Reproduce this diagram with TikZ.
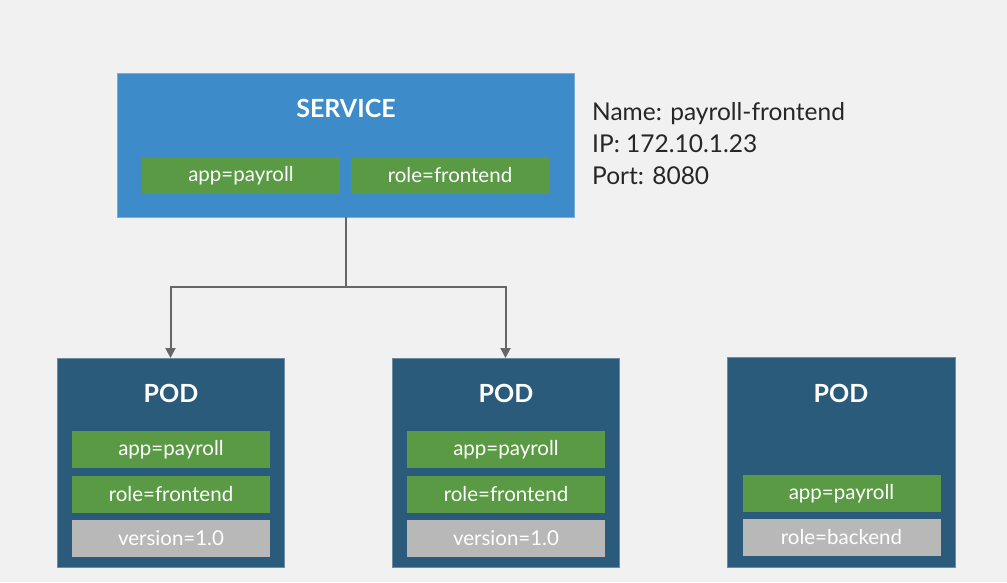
\documentclass[tikz,border=0pt]{standalone}
\usepackage{fontspec}
\setmainfont{Lato}
\usetikzlibrary{arrows.meta}
\definecolor{bg}{HTML}{F1F1F1}
\definecolor{svcblue}{HTML}{3D8BC9}
\definecolor{poddark}{HTML}{2B5B7B}
\definecolor{lblgreen}{HTML}{5A9A45}
\definecolor{lblgrey}{HTML}{B8B8B8}
\definecolor{linegrey}{HTML}{666666}
\begin{document}
\begin{tikzpicture}[x=1pt,y=-1pt,
  box/.style={draw=none,inner sep=0pt,outer sep=0pt},
  svcbox/.style={box,fill=svcblue,draw=svcblue!70!white,line width=0.8pt},
  podbox/.style={box,fill=poddark,draw=poddark!70!white,line width=0.8pt},
  lbl/.style={box,text=white,font=\fontsize{20.5}{22}\selectfont,minimum width=198pt,minimum height=37pt},
  glbl/.style={lbl,fill=lblgreen},
  ylbl/.style={lbl,fill=lblgrey},
  title/.style={text=white,font=\fontsize{25}{27}\selectfont\bfseries,inner sep=0pt},
  info/.style={font=\fontsize{24.5}{28}\selectfont,text=black!85,inner sep=0pt,anchor=base west},
  conn/.style={draw=linegrey,line width=2pt},
  arr/.style={conn,-{Triangle[length=10pt,width=10pt]}}
]
\fill[bg] (0,0) rectangle (1007,582);
\useasboundingbox (0,0) rectangle (1007,582);

% service
\node[svcbox,minimum width=457pt,minimum height=144pt] (svc) at (345.5,145) {};
\node[title] (svct) at (346,108) {SERVICE};
\node[glbl] (s1) at (241,175.5) {app=payroll};
\node[glbl] (s2) at (450,175.5) {role=frontend};

\node[info] (n1) at (592,120) {Name: payroll-frontend};
\node[info] (n2) at (592,152) {IP: 172.10.1.23};
\node[info] (n3) at (592,184) {Port: 8080};

% pods
\node[podbox,minimum width=227pt,minimum height=209pt] (p1) at (170.5,462.5) {};
\node[title] (p1t) at (171,393) {POD};
\node[glbl] (p1a) at (171,449.5) {app=payroll};
\node[glbl] (p1b) at (171,494.5) {role=frontend};
\node[ylbl] (p1c) at (171,538) {version=1.0};

\node[podbox,minimum width=227pt,minimum height=209pt] (p2) at (505.5,462.5) {};
\node[title] (p2t) at (506,393) {POD};
\node[glbl] (p2a) at (506,449.5) {app=payroll};
\node[glbl] (p2b) at (506,494.5) {role=frontend};
\node[ylbl] (p2c) at (506,538) {version=1.0};

\node[podbox,minimum width=228pt,minimum height=210pt] (p3) at (841,462) {};
\node[title] (p3t) at (841,393) {POD};
\node[glbl] (p3a) at (841.5,493.5) {app=payroll};
\node[ylbl] (p3b) at (841.5,537.5) {role=backend};

% connectors
\coordinate (j) at (svc.south |- 0,287);
\draw[conn] (svc.south) -- (j);
\draw[arr] (j) -| (p1.north);
\draw[arr] (j) -| (p2.north);
\end{tikzpicture}
\end{document}
